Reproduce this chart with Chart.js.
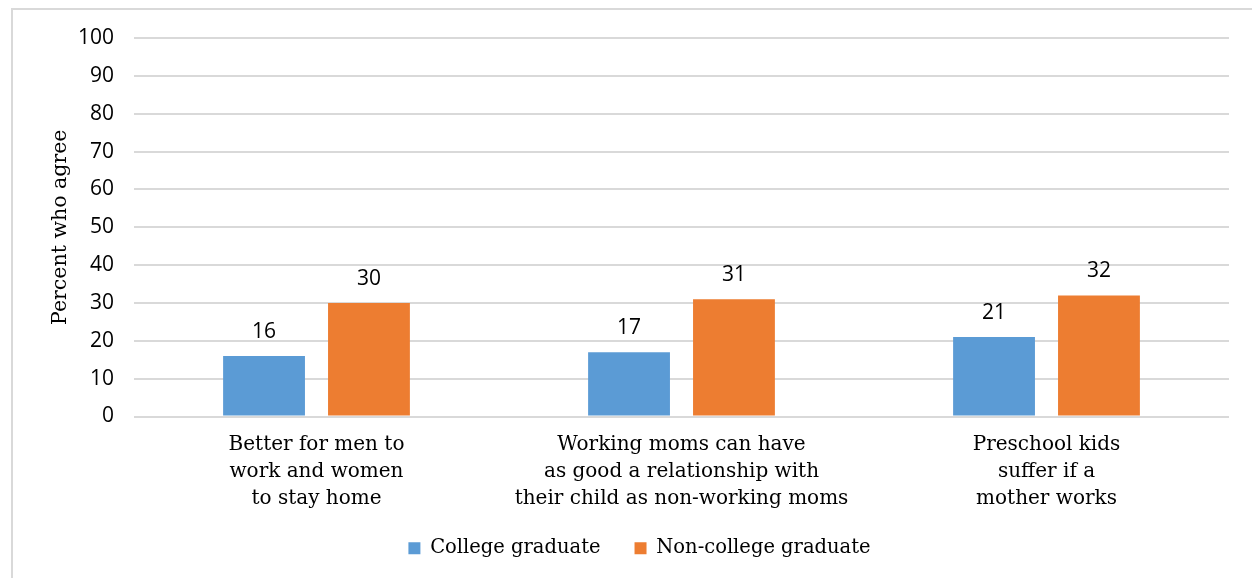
<!DOCTYPE html>
<html>
<head>
<meta charset="utf-8">
<script src="https://cdn.jsdelivr.net/npm/chart.js@4.4.1/dist/chart.umd.min.js"></script>
<style>
  html, body { margin: 0; padding: 0; background: #fff; }
  #frame {
    position: absolute; left: 11px; top: 8px; width: 1300px; height: 700px;
    border: 2px solid #d9d9d9; box-sizing: border-box;
  }
  #wrap { position: absolute; left: 0; top: 0; width: 1252px; height: 578px; }
</style>
</head>
<body>
<div id="frame"></div>
<div id="wrap"><canvas id="chart" width="1252" height="578"></canvas></div>
<script>
// categories (multi-line labels) and values
const categories = [
  ['Better for men to', 'work and women', 'to stay home'],
  ['Working moms can have', 'as good a relationship with', 'their child as non-working moms'],
  ['Preschool kids', 'suffer if a', 'mother works']
];
const collegeGrad = [16, 17, 21];
const nonCollegeGrad = [30, 31, 32];
const seriesNames = ['College graduate', 'Non-college graduate'];
const yAxisTitle = 'Percent who agree';

const SLAB = '"DejaVu Serif", serif';
const SANS = '"Open Sans", "DejaVu Sans", sans-serif';
const TEXT = '#000';

// draws the value above each bar
const valueLabels = {
  id: 'valueLabels',
  afterDatasetsDraw(chart) {
    const ctx = chart.ctx;
    ctx.save();
    ctx.fillStyle = TEXT;
    ctx.font = '21px ' + SANS;
    ctx.textAlign = 'center';
    ctx.textBaseline = 'middle';
    chart.data.datasets.forEach((ds, i) => {
      chart.getDatasetMeta(i).data.forEach((bar, j) => {
        ctx.fillText(ds.data[j], bar.x, bar.y - 24);
      });
    });
    ctx.restore();
  }
};

// legend padding also widens the gap between items; keep its box short
// (and unclipped) and nudge it right so it sits where the original one does
const legendTweak = {
  id: 'legendTweak',
  beforeLayout(chart) {
    const lg = chart.legend;
    if (lg && !lg._short) {
      const fit = lg.fit.bind(lg);
      lg.fit = function () { fit(); this.height -= 24; };
      if (typeof lg._draw === 'function') {
        lg.draw = function () { if (this.options.display) this._draw(); };
      }
      lg._short = true;
    }
  },
  afterLayout(chart) {
    const lg = chart.legend;
    lg.left += 25;
    lg.right += 25;
    lg.top -= 24;
    lg.bottom -= 24;
  }
};

new Chart(document.getElementById('chart'), {
  type: 'bar',
  data: {
    labels: categories,
    datasets: [
      {
        label: seriesNames[0],
        data: collegeGrad,
        backgroundColor: '#5b9bd5',
        categoryPercentage: 0.575,
        barPercentage: 0.78
      },
      {
        label: seriesNames[1],
        data: nonCollegeGrad,
        backgroundColor: '#ed7d31',
        categoryPercentage: 0.575,
        barPercentage: 0.78
      }
    ]
  },
  options: {
    responsive: false,
    animation: false,
    layout: { padding: { top: 38, right: 23, left: 0, bottom: 10 } },
    plugins: {
      legend: {
        position: 'bottom',
        labels: {
          color: TEXT,
          font: { family: SLAB, size: 19.5 },
          boxWidth: 12,
          boxHeight: 12,
          padding: 34
        }
      },
      tooltip: { enabled: false }
    },
    scales: {
      x: {
        grid: { display: false },
        border: { display: false },
        ticks: {
          color: TEXT,
          font: { family: SLAB, size: 20, lineHeight: 1.35 },
          padding: 7,
          maxRotation: 0,
          autoSkip: false
        },
        afterFit: (axis) => { axis.height = 112; }
      },
      y: {
        min: 0,
        max: 100,
        ticks: {
          stepSize: 10,
          color: TEXT,
          font: { family: SANS, size: 21 },
          padding: 20
        },
        grid: { color: '#d9d9d9', lineWidth: 2, drawTicks: false },
        border: { display: false },
        title: {
          display: true,
          text: yAxisTitle,
          color: TEXT,
          font: { family: SLAB, size: 20.5 },
          padding: { top: 48, bottom: 0 }
        },
        afterFit: (axis) => { axis.width = 134; }
      }
    }
  },
  plugins: [valueLabels, legendTweak]
});
</script>
</body>
</html>
